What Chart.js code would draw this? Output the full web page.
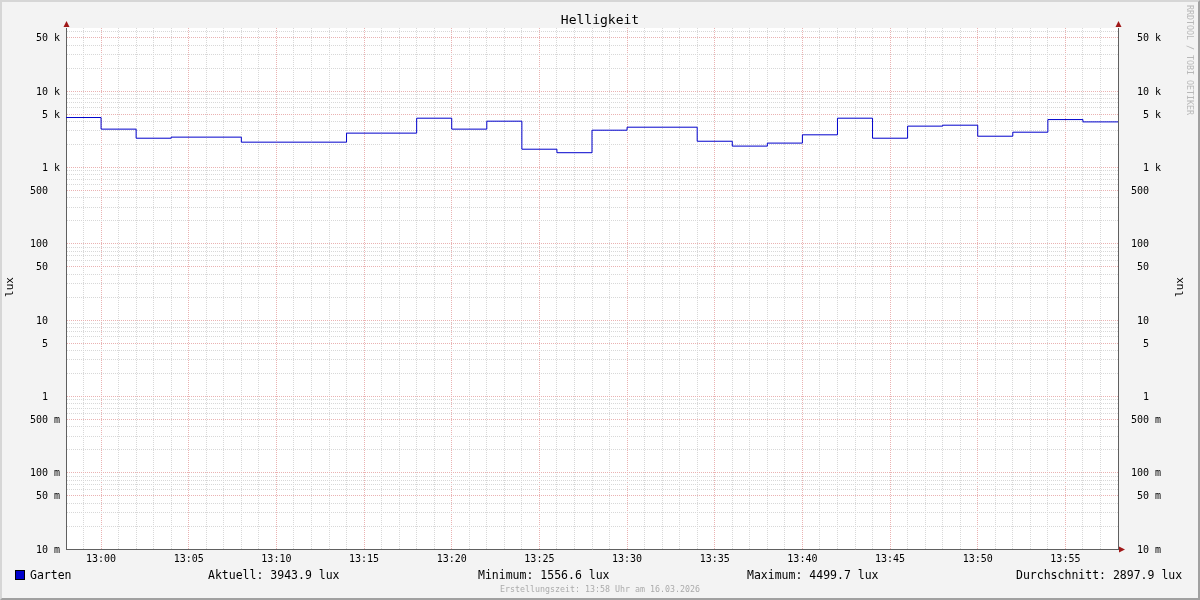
<!DOCTYPE html>
<html lang="de">
<head>
<meta charset="utf-8">
<title>Helligkeit</title>
<script src="https://cdn.jsdelivr.net/npm/chart.js@4.4.1/dist/chart.umd.min.js"></script>
<style>
  html, body { margin: 0; padding: 0; background: #f3f3f3; }
  #wrap { position: relative; width: 1200px; height: 600px; background: #f3f3f3; overflow: hidden;
          font-family: "DejaVu Sans Mono", monospace; color: #000; }
  #wrap canvas { position: absolute; left: 0; top: 0; }
  .txt { position: absolute; white-space: pre; line-height: 1; }
  #frame { position: absolute; left: 0; top: 0; width: 1200px; height: 600px; box-sizing: border-box; pointer-events: none;
           border-top: 2px solid #d6d6d6; border-left: 2px solid #d6d6d6;
           border-right: 2px solid #a0a0a0; border-bottom: 2px solid #a0a0a0; }
  #swatch { position: absolute; left: 15px; top: 570px; width: 8px; height: 8px; background: #0000cc; border: 1px solid #000; }
</style>
</head>
<body>
<div id="wrap">
  <canvas id="chart" width="1200" height="600"></canvas>
  <div class="txt" id="title" style="left:0;top:13px;width:1200px;text-align:center;font-size:13px;">Helligkeit</div>
  <div class="txt" style="left:9px;top:287px;font-size:11px;transform:translate(-50%,-50%) rotate(-90deg);">lux</div>
  <div class="txt" style="left:1179px;top:287px;font-size:11px;transform:translate(-50%,-50%) rotate(-90deg);">lux</div>
  <div class="txt" style="left:1186px;top:5px;font-size:8.3px;color:#b8b8b8;writing-mode:vertical-rl;">RRDTOOL / TOBI OETIKER</div>
  <div id="swatch"></div>
  <div class="txt" id="legendName" style="left:30px;top:570px;font-size:11.5px;"></div>
  <div class="txt" id="stat0" style="left:208px;top:570px;font-size:11.5px;"></div>
  <div class="txt" id="stat1" style="left:478px;top:570px;font-size:11.5px;"></div>
  <div class="txt" id="stat2" style="left:747px;top:570px;font-size:11.5px;"></div>
  <div class="txt" id="stat3" style="left:1016px;top:570px;font-size:11.5px;"></div>
  <div class="txt" style="left:0;top:585px;width:1200px;text-align:center;font-size:8.3px;color:#ababab;">Erstellungszeit: 13:58 Uhr am 16.03.2026</div>
  <div id="frame"></div>
</div>
<script>
// Messwerte (Beginn jedes 2-Minuten-Schritts, letzter Punkt = Ende)
const stepTimes = ['12:58', '13:00', '13:02', '13:04', '13:06', '13:08', '13:10', '13:12', '13:14', '13:16',
                   '13:18', '13:20', '13:22', '13:24', '13:26', '13:28', '13:30', '13:32', '13:34', '13:36',
                   '13:38', '13:40', '13:42', '13:44', '13:46', '13:48', '13:50', '13:52', '13:54', '13:56', '13:58'];
const luxValues = [4499.7, 3170, 2410, 2490, 2490, 2140, 2140, 2140, 2810, 2810,
                   4410, 3170, 4030, 1730, 1556.6, 3070, 3360, 3360, 2200, 1900,
                   2080, 2670, 4410, 2410, 3470, 3570, 2560, 2890, 4230, 3943.9, 3943.9];
const seriesName = 'Garten';

const xTickLabels = ['13:00', '13:05', '13:10', '13:15', '13:20', '13:25', '13:30', '13:35', '13:40', '13:45', '13:50', '13:55'];
const yTickValues = [0.01, 0.05, 0.1, 0.5, 1, 5, 10, 50, 100, 500, 1000, 5000, 10000, 50000];
const yTickLabels = ['10 m', '50 m', '100 m', '500 m', '1  ', '5  ', '10  ', '50  ', '100  ', '500  ', '1 k', '5 k', '10 k', '50 k'];
const statsText = ['Aktuell: 3943.9 lux', 'Minimum: 1556.6 lux', 'Maximum: 4499.7 lux', 'Durchschnitt: 2897.9 lux'];

const xMin = -2, xMax = 58;       // 12:58 .. 13:58, Minuten relativ zu 13:00
const yMin = 0.01, yMax = 67000;

const MAJOR = '#eab2b2';
const MINOR = '#d8d8d8';
const AXIS = '#606060';
const FONT = 'DejaVu Sans Mono';

function toMinutes(t) {
    const [h, m] = t.split(':').map(Number);
    return (h - 13) * 60 + m;
}
const xTickMinutes = xTickLabels.map(toMinutes);

function isMajorY(v) {
    return yTickValues.some(t => Math.abs(t - v) / t < 1e-6);
}
function yLabel(v) {
    const i = yTickValues.findIndex(t => Math.abs(t - v) / t < 1e-6);
    return i >= 0 ? yTickLabels[i] : '';
}
function buildYTicks(scale) {
    const ticks = [];
    for (let e = -2; e <= 4; e++) {
        for (let m = 1; m <= 9; m++) {
            const v = Number((m * Math.pow(10, e)).toPrecision(6));
            if (v >= yMin && v <= yMax) ticks.push({ value: v, major: isMajorY(v) });
        }
    }
    scale.ticks = ticks;
}

document.getElementById('legendName').textContent = seriesName;
statsText.forEach((s, i) => { document.getElementById('stat' + i).textContent = s; });

const chartDecor = {
    id: 'chartDecor',
    beforeDraw(chart) {
        const { ctx, chartArea: a } = chart;
        ctx.save();
        ctx.fillStyle = '#ffffff';
        ctx.fillRect(a.left, a.top, a.right - a.left, a.bottom - a.top);
        ctx.restore();
    },
    afterDraw(chart) {
        const { ctx, chartArea: a } = chart;
        ctx.save();
        ctx.fillStyle = '#a01818';
        // Pfeile an den Achsen
        [a.left, a.right].forEach(x => {
            ctx.beginPath();
            ctx.moveTo(x + 0.5, a.top - 7);
            ctx.lineTo(x - 2.5, a.top - 1);
            ctx.lineTo(x + 3.5, a.top - 1);
            ctx.closePath();
            ctx.fill();
        });
        ctx.beginPath();
        ctx.moveTo(a.right + 7, a.bottom + 0.5);
        ctx.lineTo(a.right + 1, a.bottom - 2.5);
        ctx.lineTo(a.right + 1, a.bottom + 3.5);
        ctx.closePath();
        ctx.fill();
        ctx.restore();
    }
};

new Chart(document.getElementById('chart'), {
    type: 'line',
    data: {
        datasets: [{
            label: seriesName,
            data: stepTimes.map((t, i) => ({ x: toMinutes(t), y: luxValues[i] })),
            borderColor: '#0000cc',
            borderWidth: 1,
            pointRadius: 0,
            stepped: 'before',
            fill: false
        }]
    },
    options: {
        responsive: false,
        animation: false,
        devicePixelRatio: 1,
        layout: { padding: { top: 28, right: 39, bottom: 0, left: 0 } },
        plugins: { legend: { display: false }, tooltip: { enabled: false }, title: { display: false } },
        scales: {
            x: {
                type: 'linear',
                position: 'bottom',
                min: xMin,
                max: xMax,
                afterBuildTicks(scale) {
                    const ticks = [];
                    for (let m = xMin; m <= xMax; m++) ticks.push({ value: m });
                    scale.ticks = ticks;
                },
                afterFit(scale) { scale.height = 51; },
                grid: {
                    drawTicks: false,
                    color: c => (c.tick && xTickMinutes.includes(c.tick.value)) ? MAJOR : MINOR,
                    lineWidth: 1
                },
                border: { color: AXIS, width: 1, dash: [1, 1] },
                ticks: {
                    autoSkip: false,
                    maxRotation: 0,
                    padding: 4,
                    color: '#000',
                    font: { family: FONT, size: 10 },
                    callback: v => {
                        const i = xTickMinutes.indexOf(v);
                        return i >= 0 ? xTickLabels[i] : '';
                    }
                }
            },
            y: {
                type: 'logarithmic',
                position: 'left',
                min: yMin,
                max: yMax,
                afterBuildTicks: buildYTicks,
                afterFit(scale) { scale.width = 66; },
                grid: {
                    drawTicks: false,
                    color: c => (c.tick && isMajorY(c.tick.value)) ? MAJOR : MINOR,
                    lineWidth: 1
                },
                border: { color: AXIS, width: 1, dash: [1, 1] },
                ticks: {
                    autoSkip: false,
                    padding: 6,
                    labelOffset: 1,
                    color: '#000',
                    font: { family: FONT, size: 10 },
                    callback: v => yLabel(v)
                }
            },
            y2: {
                type: 'logarithmic',
                position: 'right',
                min: yMin,
                max: yMax,
                afterBuildTicks: buildYTicks,
                afterFit(scale) { scale.width = 43; },
                grid: { drawTicks: false, drawOnChartArea: false },
                border: { color: AXIS, width: 1 },
                ticks: {
                    autoSkip: false,
                    crossAlign: 'far',
                    padding: 5,
                    labelOffset: 1,
                    color: '#000',
                    font: { family: FONT, size: 10 },
                    callback: v => yLabel(v)
                }
            }
        }
    },
    plugins: [chartDecor]
});
</script>
</body>
</html>
